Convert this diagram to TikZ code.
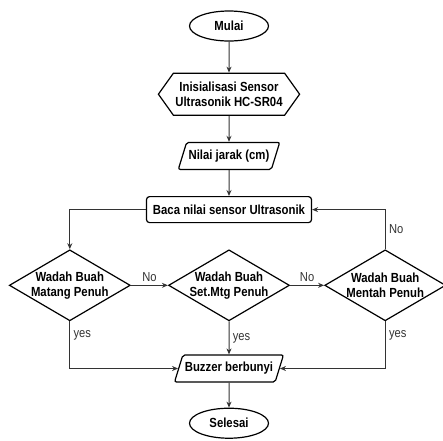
\documentclass[tikz,border=0pt]{standalone}
\usepackage{fontspec}
\setmainfont{Liberation Sans}[FakeStretch=0.86]
\usepackage{tikz}
\usetikzlibrary{shapes.geometric,shapes.symbols,arrows.meta,positioning}

\begin{document}
\begin{tikzpicture}[
    node distance=26pt and 36pt,
    every node/.style={font=\fontsize{13}{14}\selectfont},
    base/.style={draw,line width=1.2pt,align=center,inner sep=2pt,font=\fontsize{13.2}{15}\selectfont\bfseries},
    term/.style={base,ellipse,minimum width=79pt,minimum height=30pt},
    prep/.style={base,signal,signal to=west and east,signal pointer angle=109,minimum width=140pt,minimum height=42pt},
    io/.style={base,trapezium,trapezium left angle=63,trapezium right angle=117,trapezium stretches body,rounded corners=2pt,minimum height=27pt},
    proc/.style={base,rectangle,rounded corners=3pt,minimum width=165pt,minimum height=26pt},
    cek/.style={base,diamond,aspect=1.7,inner sep=-7pt,minimum width=121pt,minimum height=71pt},
    arrow/.style={-{Stealth[length=6pt,width=5pt]},line width=1pt,black!80}
  ]
    \useasboundingbox (-229pt,26pt) rectangle (214pt,-414pt);

    \node[term] (mulai) {Mulai};
    \node[prep,below=31pt of mulai] (init) {Inisialisasi Sensor\\Ultrasonik HC-SR04};
    \node[io,below=of init,minimum width=101pt] (jarak) {Nilai jarak (cm)};
    \node[proc,below=of jarak] (baca) {Baca nilai sensor Ultrasonik};
    \node[cek,below=of baca] (setmtg) {Wadah Buah\\Set.Mtg Penuh};
    \node[cek,left=37pt of setmtg] (matang) {Wadah Buah\\Matang Penuh};
    \node[cek,right=34pt of setmtg] (mentah) {Wadah Buah\\Mentah Penuh};
    \node[io,below=33pt of setmtg,minimum width=107pt] (buzzer) {Buzzer berbunyi};
    \node[term,below=25pt of buzzer] (selesai) {Selesai};

    \draw[arrow] (mulai) -- (init);
    \draw[arrow] (init) -- (jarak);
    \draw[arrow] (jarak) -- (baca);
    \draw[arrow] (baca.west) -| (matang.north);
    \draw[arrow] (matang) -- node[above] {No} (setmtg);
    \draw[arrow] (setmtg) -- node[above] {No} (mentah);
    \draw[arrow] (mentah.north) |- node[right,pos=0.25] {No} (baca.east);
    \draw[arrow] (matang.south) |- node[right,pos=0.15] {yes} (buzzer.west);
    \draw[arrow] (setmtg) -- node[right] {yes} (buzzer);
    \draw[arrow] (mentah.south) |- node[right,pos=0.15] {yes} (buzzer.east);
    \draw[arrow] (buzzer) -- (selesai);
  \end{tikzpicture}
\end{document}
